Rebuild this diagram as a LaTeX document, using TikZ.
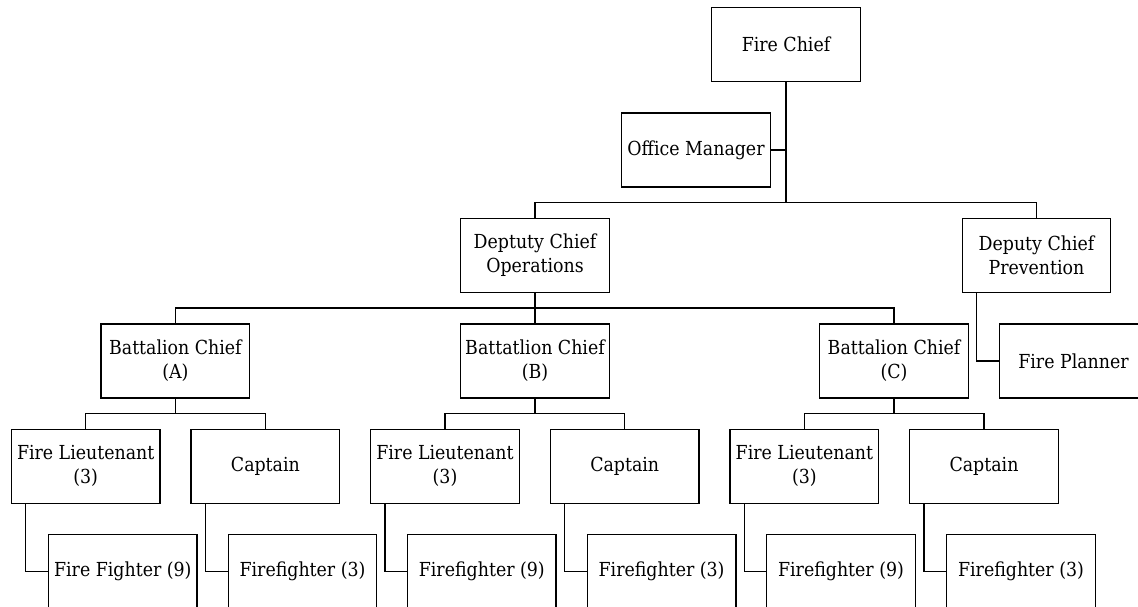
\documentclass[tikz,border=0pt]{standalone}
\usepackage{fontspec}
\setmainfont{DejaVu Serif Condensed}
\tikzset{
	post/.style={draw, line width=0.8pt, minimum width=2.97cm, minimum height=1.48cm, inner sep=0pt, align=center, font=\fontsize{11}{13.6}\selectfont},
	link/.style={line width=0.8pt}
}
\begin{document}
\begin{tikzpicture}[x=0.02cm, y=-0.02cm]
	\clip (0,0) rectangle (1138,607);
	\fill[white] (0,0) rectangle (1138,607);

	\node[post] (chief) at (786,44.5) {Fire Chief};
	\node[post] (office) at (696,150) {Office Manager};
	\node[post] (opsdep) at (535,255.3) {Deptuty Chief\\Operations};
	\node[post] (prevdep) at (1036.5,255.3) {Deputy Chief\\Prevention};
	\node[post] (planner) at (1073.5,361) {Fire Planner};

	\node[post] (battA) at (175.4,361) {Battalion Chief\\(A)};
	\node[post] (battB) at (535,361) {Battatlion Chief\\(B)};
	\node[post] (battC) at (894,361) {Battalion Chief\\(C)};

	\node[post] (lieutA) at (85.7,466.3) {Fire Lieutenant\\(3)};
	\node[post] (captA) at (265.4,466.3) {Captain};
	\node[post] (lieutB) at (445,466.3) {Fire Lieutenant\\(3)};
	\node[post] (captB) at (624.7,466.3) {Captain};
	\node[post] (lieutC) at (804.4,466.3) {Fire Lieutenant\\(3)};
	\node[post] (captC) at (984,466.3) {Captain};

	\node[post] (crewA) at (122.8,571.3) {Fire Fighter (9)};
	\node[post] (smallA) at (302.5,571.3) {Firefighter (3)};
	\node[post] (crewB) at (481.8,571.3) {Firefighter (9)};
	\node[post] (smallB) at (661.6,571.3) {Firefighter (3)};
	\node[post] (crewC) at (841,571.3) {Firefighter (9)};
	\node[post] (smallC) at (1021,571.3) {Firefighter (3)};

	\coordinate (topbus) at (786,202.7);
	\coordinate (opsbus) at (535,308);
	\coordinate (busA) at (175.4,413.7);
	\coordinate (busB) at (535,413.7);
	\coordinate (busC) at (894,413.7);

	% top levels
	\draw[link] (chief.south) -- (topbus);
	\draw[link] (office.east) -- (office.east -| chief.south);
	\draw[link] (opsdep.north) |- (topbus) -| (prevdep.north);
	\draw[link] ([xshift=0.3cm]prevdep.south west) |- (planner.west);

	% battalions
	\draw[link] (opsdep.south) -- (battB.north);
	\draw[link] (battA.north) |- (opsbus) -| (battC.north);

	\draw[link] (battA.south) -- (busA);
	\draw[link] (lieutA.north) |- (busA) -| (captA.north);
	\draw[link] (battB.south) -- (busB);
	\draw[link] (lieutB.north) |- (busB) -| (captB.north);
	\draw[link] (battC.south) -- (busC);
	\draw[link] (lieutC.north) |- (busC) -| (captC.north);

	% crews
	\draw[link] ([xshift=0.3cm]lieutA.south west) |- (crewA.west);
	\draw[link] ([xshift=0.3cm]captA.south west) |- (smallA.west);
	\draw[link] ([xshift=0.3cm]lieutB.south west) |- (crewB.west);
	\draw[link] ([xshift=0.3cm]captB.south west) |- (smallB.west);
	\draw[link] ([xshift=0.3cm]lieutC.south west) |- (crewC.west);
	\draw[link] ([xshift=0.3cm]captC.south west) |- (smallC.west);
\end{tikzpicture}
\end{document}
